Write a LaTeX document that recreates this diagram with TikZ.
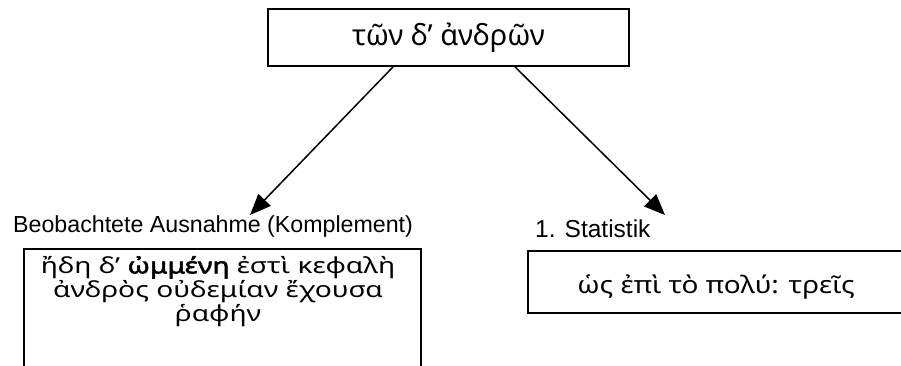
\documentclass[tikz,border=0pt]{standalone}
\usepackage{fontspec}
\setmainfont{Liberation Sans}
\newfontfamily\grk[Script=Greek, AutoFakeBold=2.5]{Noto Sans}
\newfontfamily\grkwide[Script=Greek, AutoFakeBold=2.5, FakeStretch=1.28]{Noto Sans}
\newfontfamily\grkmid[Script=Greek, AutoFakeBold=2.5, FakeStretch=1.165]{Noto Sans}
\usetikzlibrary{arrows.meta}
\tikzset{
  boxnode/.style={draw, line width=1.8pt, inner sep=0pt},
  label text/.style={inner sep=0pt},
  link/.style={line width=1.5pt, -{Triangle[length=21pt,width=17pt]}},
}
\begin{document}
\begin{tikzpicture}[x=1pt,y=-1pt]
  \useasboundingbox (0,0) rectangle (901,365);
  % head node
  \node[boxnode, minimum width=361pt, minimum height=57pt,
        font=\grk\fontsize{29}{29}\selectfont] (top) at (448.5,37.5) {τῶν δ’ ἀνδρῶν};
  % labels
  \node[label text, anchor=base west, font=\fontsize{23.2}{23.2}\selectfont] (lblleft) at (13,232) {Beobachtete Ausnahme (Komplement)};
  \node[label text, anchor=base west, font=\fontsize{24.5}{24.5}\selectfont] (lblright) at (535,237) {1. Statistik};
  % lower boxes
  \node[boxnode, minimum width=397pt, minimum height=140pt, anchor=north west] (leftbox) at (23,248) {};
  \node[align=center, inner sep=0pt, anchor=north,
        font=\grkwide\fontsize{22}{24}\selectfont] (lefttext) at (218,256)
        {ἤδη δ’ \textbf{ὠμμένη} ἐστὶ κεφαλὴ\\ ἀνδρὸς οὐδεμίαν ἔχουσα\\ ῥαφήν};
  \node[boxnode, minimum width=380pt, minimum height=62pt, anchor=north west] (rightbox) at (527,250) {};
  \node[inner sep=0pt, anchor=base, font=\grkmid\fontsize{24}{24}\selectfont] (righttext) at (716,293) {ὡς ἐπὶ τὸ πολύ: τρεῖς};
  % connectors
  \coordinate (lefttip) at (250,215);
  \coordinate (righttip) at (665,215);
  \draw[link] ([xshift=-55.5pt]top.south) -- (lefttip);
  \draw[link] ([xshift=66.5pt]top.south) -- (righttip);
\end{tikzpicture}
\end{document}
